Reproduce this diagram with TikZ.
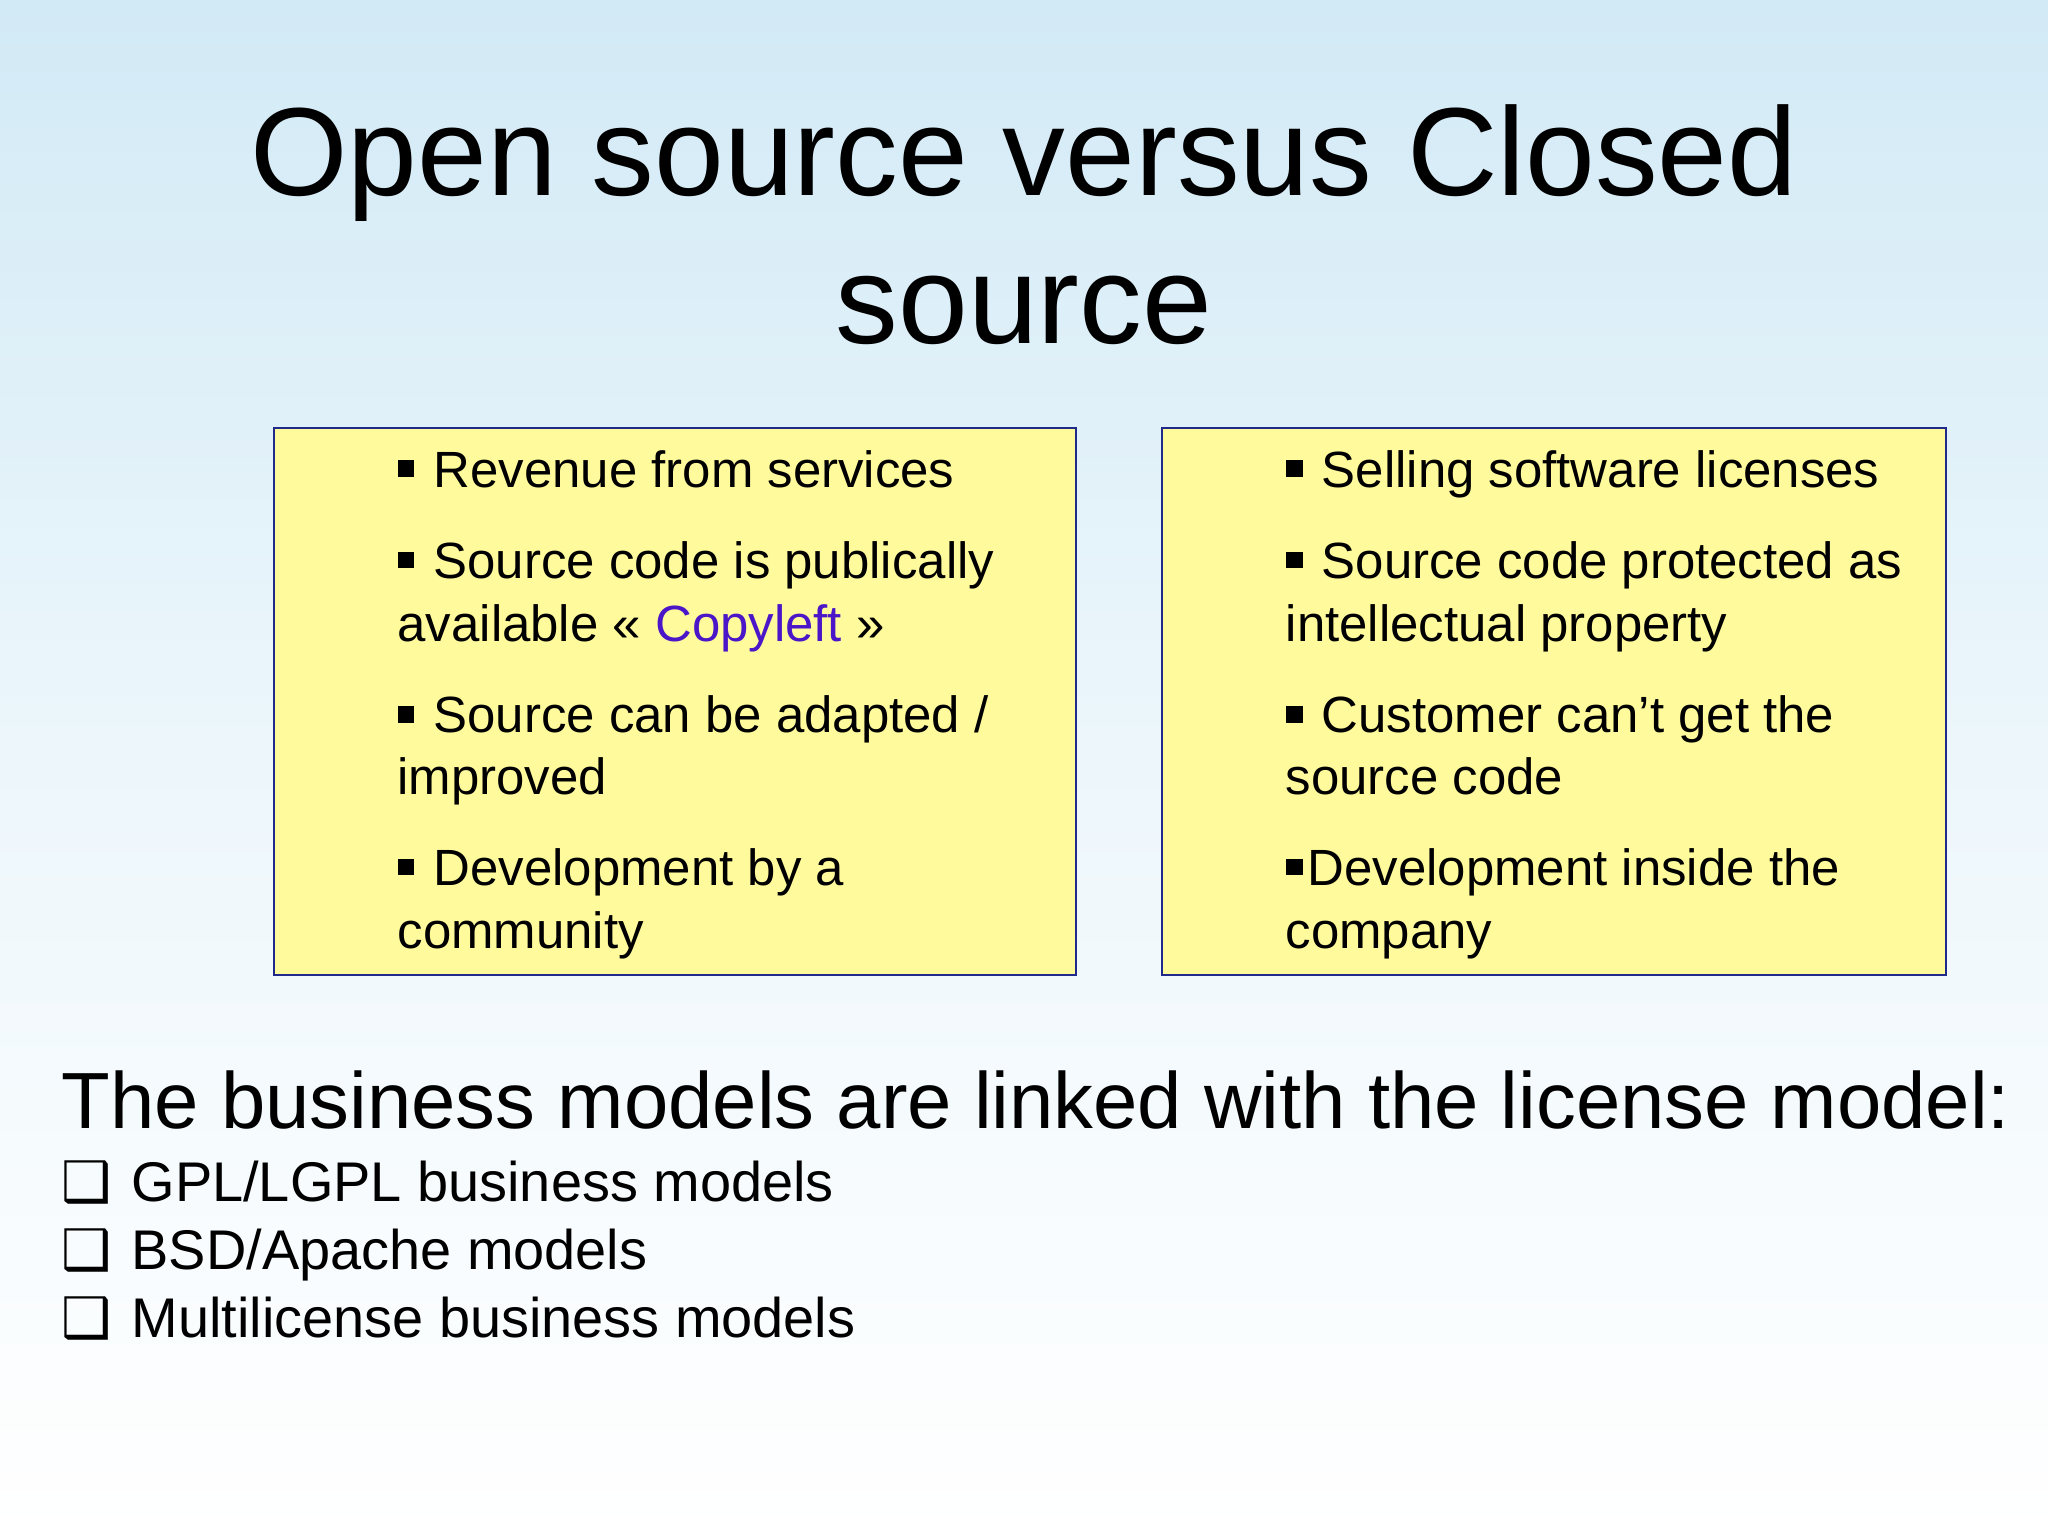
\documentclass[tikz,border=0pt]{standalone}
\usepackage{fontspec}
\setmainfont{Liberation Sans}
\newfontfamily\dejavu{DejaVu Sans}
\definecolor{boxfill}{HTML}{FFFA9C}
\definecolor{boxline}{HTML}{1F2A8A}
\definecolor{cpy}{HTML}{4B16C8}
\definecolor{bgblue}{HTML}{D2EAF6}
\newcommand{\sqb}{\rule[0.2em]{0.33em}{0.33em}\hspace{0.1em}}
\begin{document}
\begin{tikzpicture}[x=0.5pt,y=-0.5pt,
  bx/.style={draw=boxline,line width=0.8pt,fill=boxfill},
  bt/.style={anchor=base west,inner sep=0pt,font=\fontsize{19.5pt}{22pt}\selectfont},
  lt/.style={anchor=base west,inner sep=0pt,font=\fontsize{21.4pt}{24pt}\selectfont}]
\useasboundingbox (0,0) rectangle (1568,1176);
\shade[top color=bgblue,bottom color=white,middle color=bgblue!40] (0,0) rectangle (1568,1176);
\node[anchor=base,inner sep=0pt,font=\fontsize{48pt}{58pt}\selectfont] (t1) at (784,150) {Open source versus Closed};
\node[anchor=base,inner sep=0pt,font=\fontsize{48pt}{58pt}\selectfont] (t2) at (784,263) {source};
\node[bx,minimum width=307pt,minimum height=209.5pt,anchor=north west] (L) at (209,327) {};
\node[bx,minimum width=300pt,minimum height=209.5pt,anchor=north west] (R) at (889,327) {};
\node[bt] (l1) at (304,373) {\sqb\ Revenue from services};
\node[bt] (l2) at (304,443) {\sqb\ Source code is publically};
\node[bt] (l3) at (304,491) {available « \textcolor{cpy}{Copyleft} »};
\node[bt] (l4) at (304,561) {\sqb\ Source can be adapted /};
\node[bt] (l5) at (304,608) {improved};
\node[bt] (l6) at (304,678) {\sqb\ Development by a};
\node[bt] (l7) at (304,726) {community};
\node[bt] (r1) at (984,373) {\sqb\ Selling software licenses};
\node[bt] (r2) at (984,443) {\sqb\ Source code protected as};
\node[bt] (r3) at (984,491) {intellectual property};
\node[bt] (r4) at (984,561) {\sqb\ Customer can’t get the};
\node[bt] (r5) at (984,608) {source code};
\node[bt] (r6) at (984,678) {\sqb Development inside the};
\node[bt] (r7) at (984,726) {company};
\node[anchor=base west,inner sep=0pt,font=\fontsize{30.5pt}{36pt}\selectfont] (h) at (47,864) {The business models are linked with the license model:};
\node[lt] (b1) at (47,920) {{\dejavu\bfseries ❑}\hspace{0.35em}GPL/LGPL business models};
\node[lt] (b2) at (47,972) {{\dejavu\bfseries ❑}\hspace{0.35em}BSD/Apache models};
\node[lt] (b3) at (47,1024) {{\dejavu\bfseries ❑}\hspace{0.35em}Multilicense business models};
\end{tikzpicture}
\end{document}
